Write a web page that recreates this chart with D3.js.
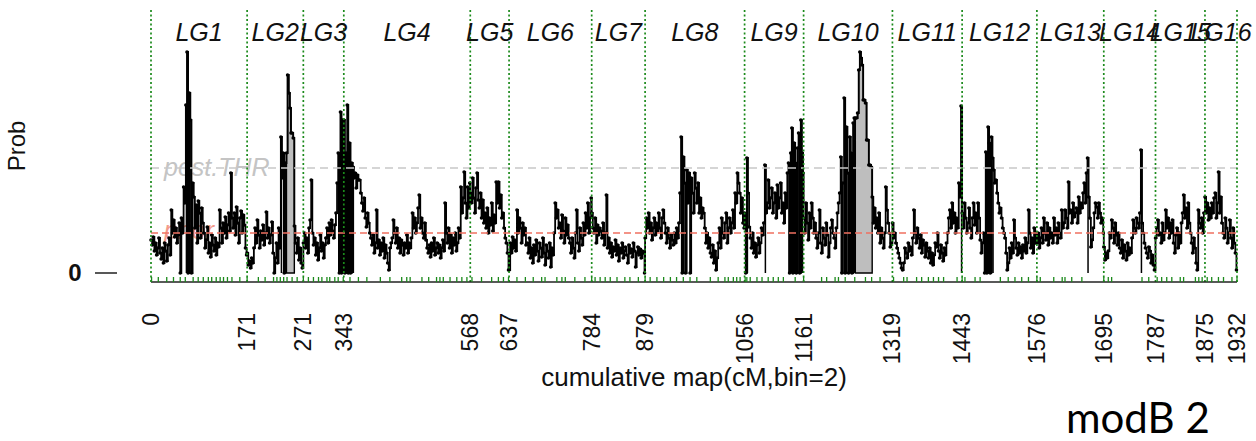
<!DOCTYPE html>
<html>
<head>
<meta charset="utf-8">
<script src="https://cdn.jsdelivr.net/npm/d3@7"></script>
<style>
  html, body { margin: 0; padding: 0; background: #ffffff; }
  svg { display: block; }
</style>
</head>
<body>
<svg id="chart" width="1256" height="441"></svg>
<script>
// ---- data -----------------------------------------------------------------
// linkage groups and their cumulative boundaries (cM)
const lgNames  = ["LG1","LG2","LG3","LG4","LG5","LG6","LG7","LG8",
                  "LG9","LG10","LG11","LG12","LG13","LG14","LG15","LG16"];
const lgBounds = [0,171,271,343,568,637,784,879,1056,1161,1319,1443,1576,1695,1787,1875,1932];
const tickLabels = ["0","171","271","343","568","637","784","879","1056","1161",
                    "1319","1443","1576","1695","1787","1875","1932"];
const binWidth = 2;            // cM per bin

// posterior probability per 2 cM bin (units of 0.001), one array per linkage group
const probLG1 = [33,28,36,22,30,18,25,35,20,14,25,10,30,22,12,28,35,18,63,40,
  53,36,45,30,38,50,0,55,40,86,70,168,221,0,180,153,0,90,76,45,68,30,72,60,35,65,50,
  40,25,33,46,20,30,16,38,28,22,35,18,30,26,63,45,30,50,40,56,35,48,60,42,100,55,
  45,60,38,66,50,30,55,62,40,58,48,25,18];
const probLG2 = [20,8,12,5,15,10,25,45,30,53,38,25,42,33,48,28,40,61,35,45,30,38,51,20,
  0,15,30,10,45,25,136,95,120,0,110,120,198,180,165,140,140,135,47,30,20,35,13,25,10,5];
const probLG3 = [30,40,25,35,20,45,53,93,40,28,35,18,30,13,25,38,22,30,15,28,35,
  45,30,50,38,53,42,35,48,60,90,120,0,161,0,153];
const probLG4 = [153,0,120,168,0,130,0,110,106,95,100,85,98,93,93,80,70,62,75,55,46,60,50,
  40,35,28,38,20,30,63,25,33,18,30,22,35,15,28,20,10,3,25,30,35,
  53,40,30,45,25,35,20,33,28,18,30,25,38,20,30,25,35,
  60,45,55,40,50,65,78,45,55,40,35,50,
  33,25,20,28,16,30,22,35,18,25,30,20,28,15,25,33,22,70,
  40,30,45,25,38,20,35,28,40,22,30,45,35,86,60,75,101,70,55,86,65,90];
const probLG5 = [80,70,95,75,60,85,100,73,65,80,55,73,50,60,45,65,40,55,48,70,42,58,50,
  91,70,91,65,78,55,60,45,35,30,20,3];
const probLG6 = [3,30,20,36,25,33,22,63,40,55,45,30,50,38,45,28,
  30,20,35,15,25,10,28,18,33,22,12,30,25,16,35,20,8,28,22,15,30,6,25,18,
  40,70,55,63,45,50,35,58,42,30,55,38,48,35,
  30,20,35,25,15,40,63,30,22,45,35,28,50,38,60,45,70,40,55,75];
const probLG7 = [60,45,40,55,30,48,38,45,42,35,50,28,40,78,
  25,35,20,30,16,26,22,33,18,28,12,25,20,30,15,22,26,18,10,28,20,24,16,30,22,6,20,26,18,24,15,22,20,0];
const probLG8 = [35,55,45,60,40,50,33,45,55,38,50,42,60,45,35,55,63,
  50,40,30,45,35,25,38,33,28,40,30,45,35,50,
  80,136,0,116,90,0,103,70,100,0,95,80,60,
  100,85,70,90,60,75,55,65,60,45,30,40,25,35,20,16,28,10,22,3,15,
  30,45,25,55,40,35,50,60,30,45,55,40,50,63,45,80,70,100,90,80,60,75,50,45];
const probLG9 = [60,0,115,80,46,35,25,40,20,30,16,28,35,20,30,45,38,50,108,
  60,70,93,65,75,85,60,70,80,55,88,65,75,90,60,70,50,80,65,100,110,
  0,120,145,0,130,110,0,125,140,0,153,120,100];
const probLG10 = [55,40,70,50,33,60,45,70,55,40,50,
  35,25,40,63,30,20,45,35,28,50,38,16,30,45,53,40,35,25,45,60,70,
  80,116,0,90,175,0,146,100,0,136,120,0,150,155,
  155,155,160,203,221,215,208,173,173,170,133,133,108,108,106,
  76,50,65,45,55,40,60,30,45,35,25,40,86,63,50,40,26,30];
const probLG11 = [50,35,40,30,25,20,15,10,5,3,10,25,20,15,30,22,26,18,35,63,
  40,30,45,35,25,38,20,33,28,16,30,22,15,25,10,20,8,18,30,26,40,22,15,28,20,12,25,18,30,
  40,55,63,45,70,50,60,40,55,45,90,76,167];
const probLG12 = [60,45,70,55,40,50,65,45,35,55,70,48,60,40,70,55,33,20,30,40,
  0,121,0,146,130,0,136,115,103,90,93,80,70,60,65,55,45,40,35,
  20,3,10,25,15,30,20,53,35,25,18,30,20,26,15,28,22,35,20,30,63,40,25,35,20,45,30,38];
const probLG13 = [30,40,25,35,45,30,55,40,33,50,28,45,35,40,30,55,38,45,30,50,40,35,63,45,50,
  63,55,45,91,60,63,50,70,56,60,65,50,76,60,70,65,80,90,70,100,115,
  76,55,26,33,45,60,70,66,55,70,60,50,55,40];
const probLG14 = [26,13,20,15,22,40,35,53,45,30,50,38,28,40,
  25,20,33,15,28,22,13,30,18,25,20,35,53,45,40,55,50,45,60,123,
  50,40,30,25,20,15,26,22,10,18,8,3];
const probLG15 = [35,45,53,38,40,30,50,33,40,63,45,55,35,50,40,53,30,20,38,45,25,40,30,50,
  60,78,55,65,45,70,50,40,30,20,35,25,10,3,63,50,45,55,40,60];
const probLG16 = [76,60,70,53,65,55,70,60,75,80,55,70,101,60,
  76,50,40,35,55,45,30,40,53,35,25,45,30,20,3];

const probByLG = [probLG1,probLG2,probLG3,probLG4,probLG5,probLG6,probLG7,probLG8,
                  probLG9,probLG10,probLG11,probLG12,probLG13,probLG14,probLG15,probLG16];

const priorProb = 40;          // prior probability level (units of 0.001)
const postThreshold = 105;     // posterior threshold (units of 0.001)

// credible regions drawn as shaded areas (cM)
const shadedStart = [241, 1253];
const shadedEnd   = [255, 1283];

// marker positions on the cumulative map (cM)
const markerPos = [1,13,28,40,52,61,75,84,93,102,108,116,123,129,136,144,158,171,191,203,218,224,230,236,242,251,260,271,280,289,298,304,313,
  318,327,333,342,354,369,384,408,425,446,455,461,482,494,508,514,520,532,544,553,562,571,588,606,618,627,636,
  651,666,680,695,701,722,731,737,754,772,784,790,799,808,817,829,843,852,867,879,888,900,912,924,935,947,959,971,
  995,1009,1021,1027,1036,1042,1048,1057,1060,1066,1078,1087,1098,1107,1116,1125,1146,1161,1193,1202,1217,1223,1235,1252,1271,1282,1297,
  1321,1339,1345,1362,1371,1383,1392,1401,1410,1434,1443,1448,1466,1475,1511,1525,1537,1549,1561,1576,1582,1606,1621,1626,
  1638,1656,1695,1703,1709,1763,1775,1790,1798,1807,1816,1831,1837,1858,1864,1870,1879,1887,1899,1908,1923,1932];

// ---- scales ----------------------------------------------------------------
const svg = d3.select("#chart");
const x = d3.scaleLinear().domain([0, 1932]).range([151, 1237]);
const y = d3.scaleLinear().domain([0, 230]).range([273, 43]);
const axisY = 282;

// flatten the per-group arrays into bins on the cumulative map
const bins = [];
probByLG.forEach((vals, g) => {
  const start = lgBounds[g], end = lgBounds[g + 1];
  vals.forEach((v, k) => {
    const s = start + k * binWidth;
    bins.push({ x0: s, x1: Math.min(s + binWidth, end), v: v });
  });
});
const inShade = b => shadedStart.some((s, i) => b.x0 >= s && b.x1 <= shadedEnd[i]);

const sans = "'Liberation Sans', Arial, Helvetica, sans-serif";

// ---- reference-level captions (under the data) ------------------------------
svg.append("text")
  .attr("x", 164).attr("y", y(postThreshold) + 8)
  .attr("font-family", sans).attr("font-style", "italic").attr("font-size", 25)
  .attr("fill", "#c4c4c4").text("post.THR");
svg.append("text")
  .attr("x", 164).attr("y", y(priorProb) + 6)
  .attr("font-family", sans).attr("font-style", "italic").attr("font-size", 25)
  .attr("fill", "#f39a8a").text("prior");

// ---- bins above the threshold as vertical bars --------------------------------
svg.append("g").selectAll("line")
  .data(bins.filter(b => b.v > postThreshold && !inShade(b)))
  .join("line")
  .attr("x1", b => x((b.x0 + b.x1) / 2)).attr("x2", b => x((b.x0 + b.x1) / 2))
  .attr("y1", y(0)).attr("y2", b => y(b.v))
  .attr("stroke", "#000").attr("stroke-width", 1.5);

// ---- shaded credible regions --------------------------------------------------
shadedStart.forEach((s, i) => {
  const e = shadedEnd[i];
  const inside = bins.filter(b => b.x0 >= s && b.x1 <= e);
  const pts = [[x(s), y(0)]];
  inside.forEach(b => { pts.push([x(b.x0), y(b.v)]); pts.push([x(b.x1), y(b.v)]); });
  pts.push([x(e), y(0)]);
  svg.append("path")
    .attr("d", d3.line()(pts) + "Z")
    .attr("fill", "#bebebe").attr("stroke", "#000").attr("stroke-width", 1.4);
});

// ---- step line of the posterior ------------------------------------------------
const stepPts = bins.map(b => [x(b.x0), y(b.v)]);
const last = bins[bins.length - 1];
stepPts.push([x(last.x1), y(last.v)]);
svg.append("path")
  .attr("d", d3.line().curve(d3.curveStepAfter)(stepPts))
  .attr("fill", "none").attr("stroke", "#000").attr("stroke-width", 1.8)
  .attr("stroke-linejoin", "miter");

svg.append("g").selectAll("circle")
  .data(bins).join("circle")
  .attr("cx", b => x(b.x0)).attr("cy", b => y(b.v)).attr("r", 1.8)
  .attr("fill", "#000");

// ---- threshold and prior lines ---------------------------------------------------
svg.append("line")
  .attr("x1", x(0)).attr("x2", x(1932))
  .attr("y1", y(postThreshold)).attr("y2", y(postThreshold))
  .attr("stroke", "#c8c8c8").attr("stroke-width", 1.7).attr("stroke-dasharray", "8,5");
svg.append("line")
  .attr("x1", x(0)).attr("x2", x(1932))
  .attr("y1", y(priorProb)).attr("y2", y(priorProb))
  .attr("stroke", "#f07060").attr("stroke-width", 1.5).attr("stroke-dasharray", "7,4");

// ---- linkage group boundaries ----------------------------------------------------
svg.append("g").selectAll("line")
  .data(lgBounds).join("line")
  .attr("x1", d => x(d)).attr("x2", d => x(d))
  .attr("y1", 10).attr("y2", axisY)
  .attr("stroke", "#1b8a1b").attr("stroke-width", 1.7).attr("stroke-dasharray", "2,2.5");

// ---- linkage group names -----------------------------------------------------
svg.append("g").selectAll("text")
  .data(lgNames).join("text")
  .attr("x", (d, i) => x((lgBounds[i] + lgBounds[i + 1]) / 2))
  .attr("y", 41)
  .attr("text-anchor", "middle")
  .attr("font-family", sans).attr("font-style", "italic").attr("font-size", 25)
  .attr("fill", "#111").text(d => d);

// ---- x axis: baseline, marker rug, boundary labels ----------------------------------
svg.append("line")
  .attr("x1", x(0)).attr("x2", x(1932)).attr("y1", axisY).attr("y2", axisY)
  .attr("stroke", "#222").attr("stroke-width", 1.6);
svg.append("g").selectAll("line")
  .data(markerPos).join("line")
  .attr("x1", d => x(d)).attr("x2", d => x(d))
  .attr("y1", axisY - 5).attr("y2", axisY)
  .attr("stroke", "#1b8a1b").attr("stroke-width", 1.3);

svg.append("g").selectAll("text")
  .data(tickLabels).join("text")
  .attr("transform", (d, i) => `translate(${x(lgBounds[i])},313) rotate(-90)`)
  .attr("text-anchor", "end").attr("dy", "0.35em")
  .attr("font-family", sans).attr("font-size", 23)
  .attr("fill", "#111").text(d => d);

svg.append("text")
  .attr("x", (x(0) + x(1932)) / 2).attr("y", 386)
  .attr("text-anchor", "middle")
  .attr("font-family", sans).attr("font-size", 26)
  .attr("fill", "#111").text("cumulative map(cM,bin=2)");

// ---- y axis: single zero tick and title -----------------------------------------------
svg.append("line")
  .attr("x1", 95).attr("x2", 117).attr("y1", y(0)).attr("y2", y(0))
  .attr("stroke", "#111").attr("stroke-width", 1.4);
svg.append("text")
  .attr("x", 75).attr("y", y(0)).attr("dy", "0.35em")
  .attr("text-anchor", "middle")
  .attr("font-family", sans).attr("font-size", 24).attr("font-weight", "bold")
  .attr("fill", "#111").text("0");
svg.append("text")
  .attr("transform", "translate(25,146) rotate(-90)")
  .attr("text-anchor", "middle")
  .attr("font-family", sans).attr("font-size", 24)
  .attr("fill", "#111").text("Prob");

// ---- panel caption ------------------------------------------------------------------
svg.append("text")
  .attr("x", 1066).attr("y", 433)
  .attr("font-family", "Lato, 'Open Sans', sans-serif").attr("font-size", 42)
  .attr("fill", "#000").text("modB 2");
</script>
</body>
</html>
